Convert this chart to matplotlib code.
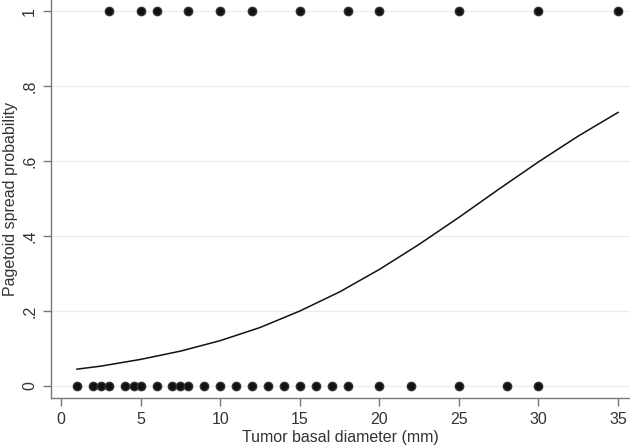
import matplotlib
matplotlib.use("Agg")
import matplotlib.pyplot as plt

# observed tumours, split by pagetoid spread outcome
diam_no_spread = [1, 2, 2.5, 3, 4, 4.6, 5, 6, 7, 7.5, 8, 9, 10, 11, 12, 13,
                  14, 15, 16, 17, 18, 20, 22, 25, 28, 30]
diam_spread = [3, 5, 6, 8, 10, 12, 15, 18, 20, 25, 30, 35]

# fitted probability curve
curve_x = [1, 2.5, 5, 7.5, 10, 12.5, 15, 17.5, 20, 22.5, 25, 27.5, 30, 32.5, 35]
curve_p = [0.045, 0.053, 0.071, 0.093, 0.121, 0.156, 0.200, 0.251, 0.311,
           0.378, 0.450, 0.525, 0.598, 0.667, 0.730]

yticks = [0, 0.2, 0.4, 0.6, 0.8, 1]
ytick_labels = ["0", ".2", ".4", ".6", ".8", "1"]
xticks = [0, 5, 10, 15, 20, 25, 30, 35]

plt.rcParams['font.family'] = ['Liberation Sans', 'DejaVu Sans']

fig = plt.figure(figsize=(6.3, 4.48), dpi=100)
ax = fig.add_axes([51 / 630, 50 / 448, 579 / 630, 398 / 448])

ax.plot(diam_no_spread, [0] * len(diam_no_spread), 'o', color='#111111',
        markeredgecolor='#333333', markersize=6, clip_on=False, zorder=3)
ax.plot(diam_spread, [1] * len(diam_spread), 'o', color='#111111',
        markeredgecolor='#333333', markersize=6, clip_on=False, zorder=3)
ax.plot(curve_x, curve_p, color='#111111', linewidth=1.1, zorder=2)

ax.set_xlim(-0.63, 35.75)
ax.set_ylim(-0.032, 1.03)

ax.set_yticks(yticks)
ax.set_yticklabels(ytick_labels, rotation=90, va='center')
ax.set_xticks(xticks)

ax.grid(axis='y', color='#ebebeb', linewidth=0.8)
ax.set_axisbelow(True)

for side in ['top', 'right']:
    ax.spines[side].set_visible(False)
for side in ['left', 'bottom']:
    ax.spines[side].set_color('#777777')
    ax.spines[side].set_linewidth(1.0)

ax.tick_params(colors='#777777', labelcolor='#333333', length=6, width=1.0,
               labelsize=11.5)
ax.tick_params(axis='x', pad=4)
ax.tick_params(axis='y', pad=4)

ax.set_xlabel("Tumor basal diameter (mm)", fontsize=11.5, color='#333333', labelpad=2)
ax.set_ylabel("Pagetoid spread probability", fontsize=11.5, color='#333333', labelpad=3)

fig.savefig("out.png", dpi=100)
